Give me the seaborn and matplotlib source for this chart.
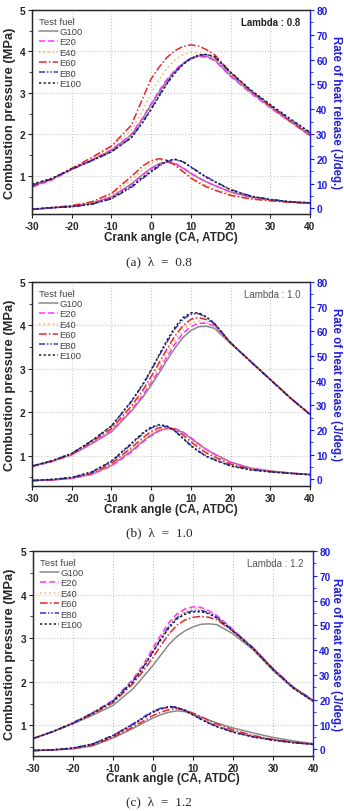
import numpy as np
import pandas as pd
import matplotlib
matplotlib.use("Agg")
import matplotlib.pyplot as plt
from matplotlib.ticker import MultipleLocator
import seaborn as sns

# crank angle grid (CA, ATDC)
crank = [-30, -25, -20, -15, -10, -5, -2, 0, 2, 4, 6, 8, 10, 12, 14, 16, 20, 25, 30, 35, 40]
fuels = ["G100", "E20", "E40", "E60", "E80", "E100"]

# (a) lambda 0.8
press_a = {
    "G100": [0.76, 0.92, 1.16, 1.38, 1.62, 1.98, 2.40, 2.72, 3.02, 3.30, 3.52, 3.70, 3.82, 3.89, 3.88, 3.80, 3.42, 3.02, 2.66, 2.32, 2.00],
    "E20": [0.73, 0.90, 1.15, 1.38, 1.63, 2.00, 2.42, 2.74, 3.05, 3.33, 3.55, 3.72, 3.83, 3.88, 3.86, 3.78, 3.40, 3.00, 2.64, 2.30, 1.97],
    "E40": [0.75, 0.92, 1.17, 1.42, 1.70, 2.10, 2.60, 3.00, 3.32, 3.60, 3.80, 3.92, 3.98, 3.97, 3.92, 3.84, 3.46, 3.04, 2.66, 2.30, 1.97],
    "E60": [0.74, 0.92, 1.18, 1.44, 1.72, 2.22, 2.90, 3.34, 3.62, 3.86, 4.02, 4.12, 4.16, 4.13, 4.04, 3.92, 3.50, 3.06, 2.68, 2.32, 1.98],
    "E80": [0.78, 0.93, 1.16, 1.36, 1.58, 1.92, 2.32, 2.62, 2.94, 3.24, 3.50, 3.70, 3.84, 3.92, 3.92, 3.86, 3.48, 3.06, 2.70, 2.36, 2.04],
    "E100": [0.80, 0.94, 1.17, 1.37, 1.58, 1.92, 2.30, 2.60, 2.92, 3.22, 3.48, 3.68, 3.83, 3.91, 3.93, 3.88, 3.50, 3.08, 2.72, 2.38, 2.05],
}
rohr_a = {
    "G100": [-0.5, 0.2, 0.8, 2.0, 4.6, 9.8, 13.8, 16.2, 18.0, 18.6, 18.0, 16.2, 14.0, 12.2, 10.6, 9.2, 6.6, 4.6, 3.4, 2.6, 2.1],
    "E20": [-0.5, 0.2, 0.8, 2.0, 4.5, 9.6, 13.6, 16.0, 17.9, 18.6, 18.1, 16.4, 14.2, 12.3, 10.6, 9.2, 6.5, 4.5, 3.3, 2.5, 2.0],
    "E40": [-0.5, 0.3, 1.0, 2.4, 5.4, 11.4, 15.6, 18.0, 19.4, 19.2, 17.6, 15.2, 12.8, 10.8, 9.2, 7.9, 5.6, 4.0, 3.1, 2.5, 2.0],
    "E60": [-0.5, 0.3, 1.1, 2.6, 6.0, 12.8, 17.2, 19.2, 20.0, 19.4, 17.4, 14.8, 12.2, 10.2, 8.6, 7.3, 5.2, 3.8, 3.0, 2.4, 2.0],
    "E80": [-0.4, 0.2, 0.6, 1.6, 3.8, 8.4, 12.2, 14.6, 17.0, 18.8, 19.6, 18.8, 16.8, 14.6, 12.6, 10.9, 7.6, 5.0, 3.6, 2.7, 2.2],
    "E100": [-0.3, 0.3, 0.7, 1.7, 4.0, 8.8, 12.6, 15.0, 17.4, 19.2, 19.8, 18.8, 16.6, 14.4, 12.4, 10.7, 7.4, 4.9, 3.5, 2.6, 2.2],
}

# (b) lambda 1.0
press_b = {
    "G100": [0.76, 0.87, 1.02, 1.27, 1.55, 2.02, 2.36, 2.62, 2.90, 3.20, 3.48, 3.72, 3.88, 3.97, 3.98, 3.93, 3.58, 3.18, 2.76, 2.34, 1.95],
    "E20": [0.75, 0.86, 1.02, 1.28, 1.57, 2.05, 2.40, 2.68, 2.97, 3.28, 3.57, 3.82, 3.97, 4.05, 4.05, 3.98, 3.60, 3.18, 2.76, 2.34, 1.95],
    "E40": [0.76, 0.87, 1.03, 1.30, 1.60, 2.10, 2.46, 2.75, 3.05, 3.37, 3.66, 3.90, 4.05, 4.10, 4.07, 3.98, 3.60, 3.18, 2.76, 2.34, 1.95],
    "E60": [0.75, 0.87, 1.03, 1.31, 1.62, 2.14, 2.52, 2.82, 3.14, 3.46, 3.76, 3.99, 4.14, 4.18, 4.13, 4.02, 3.60, 3.17, 2.75, 2.33, 1.95],
    "E80": [0.76, 0.88, 1.05, 1.34, 1.68, 2.24, 2.64, 2.96, 3.30, 3.62, 3.92, 4.14, 4.26, 4.27, 4.18, 4.04, 3.60, 3.17, 2.75, 2.33, 1.95],
    "E100": [0.76, 0.88, 1.05, 1.34, 1.68, 2.25, 2.66, 2.98, 3.32, 3.66, 3.96, 4.18, 4.29, 4.29, 4.19, 4.04, 3.60, 3.17, 2.75, 2.33, 1.95],
}
rohr_b = {
    "G100": [-0.5, -0.3, 0.4, 2.0, 5.6, 11.4, 15.6, 18.0, 19.8, 20.6, 20.4, 19.0, 16.6, 14.2, 12.0, 10.2, 7.0, 4.6, 3.4, 2.6, 2.0],
    "E20": [-0.5, -0.3, 0.4, 2.0, 5.4, 11.0, 15.2, 17.6, 19.6, 20.6, 20.6, 19.2, 16.9, 14.4, 12.1, 10.2, 6.9, 4.5, 3.3, 2.5, 1.9],
    "E40": [-0.5, -0.2, 0.5, 2.2, 6.0, 12.2, 16.4, 18.8, 20.4, 20.9, 20.2, 18.4, 15.8, 13.4, 11.2, 9.5, 6.5, 4.3, 3.2, 2.5, 1.9],
    "E60": [-0.5, -0.2, 0.6, 2.4, 6.4, 12.8, 17.0, 19.4, 20.9, 21.2, 20.2, 18.0, 15.2, 12.7, 10.6, 9.0, 6.2, 4.2, 3.2, 2.5, 1.9],
    "E80": [-0.5, -0.1, 0.7, 2.8, 7.2, 14.2, 18.6, 20.8, 21.8, 21.4, 19.6, 16.8, 13.8, 11.4, 9.4, 8.0, 5.6, 3.9, 3.1, 2.4, 1.9],
    "E100": [-0.5, 0.0, 0.8, 3.0, 7.4, 14.6, 19.0, 21.2, 22.2, 21.6, 19.6, 16.6, 13.6, 11.2, 9.2, 7.8, 5.4, 3.8, 3.0, 2.4, 1.9],
}

# (c) lambda 1.2
press_c = {
    "G100": [0.70, 0.86, 1.04, 1.24, 1.46, 1.84, 2.16, 2.38, 2.62, 2.86, 3.04, 3.17, 3.26, 3.32, 3.33, 3.31, 3.10, 2.74, 2.26, 1.86, 1.55],
    "E20": [0.70, 0.86, 1.06, 1.30, 1.58, 2.06, 2.46, 2.78, 3.08, 3.36, 3.56, 3.67, 3.72, 3.71, 3.63, 3.52, 3.20, 2.78, 2.30, 1.88, 1.58],
    "E40": [0.70, 0.86, 1.06, 1.29, 1.57, 2.04, 2.44, 2.75, 3.05, 3.32, 3.52, 3.63, 3.68, 3.68, 3.61, 3.50, 3.19, 2.78, 2.30, 1.88, 1.58],
    "E60": [0.70, 0.86, 1.05, 1.27, 1.52, 1.96, 2.30, 2.56, 2.84, 3.10, 3.30, 3.42, 3.48, 3.50, 3.48, 3.42, 3.16, 2.78, 2.30, 1.88, 1.58],
    "E80": [0.70, 0.86, 1.06, 1.29, 1.56, 2.02, 2.40, 2.70, 3.00, 3.27, 3.47, 3.58, 3.63, 3.64, 3.58, 3.48, 3.18, 2.78, 2.30, 1.88, 1.57],
    "E100": [0.70, 0.86, 1.05, 1.28, 1.55, 2.00, 2.38, 2.68, 2.97, 3.24, 3.44, 3.55, 3.60, 3.61, 3.56, 3.46, 3.16, 2.76, 2.28, 1.86, 1.56],
}
rohr_c = {
    "G100": [-0.5, -0.3, 0.2, 1.4, 4.6, 8.4, 11.0, 12.6, 14.0, 15.0, 15.5, 15.2, 14.2, 13.0, 11.8, 10.6, 8.6, 6.6, 4.8, 3.4, 2.3],
    "E20": [-0.5, -0.2, 0.5, 2.2, 5.6, 10.2, 13.2, 15.0, 16.3, 17.0, 16.8, 15.6, 14.0, 12.4, 10.8, 9.4, 7.2, 5.2, 3.8, 2.8, 2.0],
    "E40": [-0.5, -0.2, 0.5, 2.1, 5.4, 10.0, 13.0, 14.8, 16.1, 16.9, 16.8, 15.8, 14.2, 12.6, 11.0, 9.6, 7.3, 5.3, 3.9, 2.8, 2.0],
    "E60": [-0.5, -0.3, 0.3, 1.7, 4.8, 9.0, 11.8, 13.6, 15.0, 16.0, 16.4, 15.8, 14.6, 13.2, 11.6, 10.2, 7.8, 5.6, 4.0, 2.9, 2.0],
    "E80": [-0.5, -0.2, 0.5, 2.2, 5.6, 10.2, 13.4, 15.3, 16.6, 17.3, 17.0, 15.8, 14.0, 12.2, 10.6, 9.2, 7.0, 5.0, 3.7, 2.7, 2.0],
    "E100": [-0.5, -0.2, 0.5, 2.1, 5.4, 9.9, 13.0, 15.0, 16.4, 17.1, 16.8, 15.6, 13.8, 12.1, 10.5, 9.1, 6.9, 5.0, 3.7, 2.7, 2.0],
}

lambdas = ["0.8", "1.0", "1.2"]
captions = ["(a)", "(b)", "(c)"]

palette = {"G100": "#8a8a8a", "E20": "#ff33ff", "E40": "#ffaa55", "E60": "#e8262b",
           "E80": "#3333dd", "E100": "#222222"}
dashes = {"G100": "", "E20": (4, 2), "E40": (1, 2), "E60": (5, 1.5, 1, 1.5),
          "E80": (4, 1.2, 1, 1.2, 1, 1.2), "E100": (1.5, 1.5)}
blue = "#1f1fe0"


def long_df(d):
    rows = []
    for f in fuels:
        for x, y in zip(crank, d[f]):
            rows.append({"crank": x, "val": y, "fuel": f})
    return pd.DataFrame(rows)


sns.set_style("ticks")
plt.rcParams["font.family"] = ["Liberation Sans", "DejaVu Sans"]
plt.rcParams["axes.unicode_minus"] = False

fig = plt.figure(figsize=(3.44, 8.12), dpi=100)
# panel boxes in pixels: left, right, top, bottom
boxes = [(32, 310, 11, 215), (32, 310, 283, 487), (33, 313, 552, 757)]
left_lims = [(0.08, 5), (0.3, 5), (0.3, 5)]
right_lims = [(-2.3, 80), (-2.7, 80), (-2.7, 80)]
caption_y = [262, 533, 802]
press_all = [press_a, press_b, press_c]
rohr_all = [rohr_a, rohr_b, rohr_c]

for i in range(3):
    l, r, t, b = boxes[i]
    ax = fig.add_axes([l / 344, 1 - b / 812, (r - l) / 344, (b - t) / 812])
    ax2 = ax.twinx()

    sns.lineplot(data=long_df(press_all[i]), x="crank", y="val", hue="fuel", style="fuel",
                 palette=palette, dashes=dashes, hue_order=fuels, style_order=fuels,
                 linewidth=1.1, ax=ax)
    sns.lineplot(data=long_df(rohr_all[i]), x="crank", y="val", hue="fuel", style="fuel",
                 palette=palette, dashes=dashes, hue_order=fuels, style_order=fuels,
                 linewidth=1.1, ax=ax2, legend=False)

    ax.set_xlim(-30, 40)
    ax.set_ylim(*left_lims[i])
    ax2.set_ylim(*right_lims[i])
    ax.set_xticks(range(-30, 41, 10))
    ax.set_yticks([1, 2, 3, 4, 5])
    ax.yaxis.set_minor_locator(MultipleLocator(0.5))
    ax2.set_yticks(range(0, 81, 10))
    ax2.yaxis.set_minor_locator(MultipleLocator(5))

    ax.grid(True, which="major", color="#c8c8c8", linestyle=":", linewidth=0.8)
    ax.tick_params(axis="both", which="major", labelsize=7.3, length=3, width=0.8, pad=2)
    ax.tick_params(axis="y", which="minor", length=2, width=0.6)
    for lab in ax.get_xticklabels() + ax.get_yticklabels():
        lab.set_fontweight("bold")

    ax2.tick_params(axis="y", which="major", labelsize=7.3, length=3, width=0.8, pad=1.5,
                    colors=blue)
    ax2.tick_params(axis="y", which="minor", length=2, width=0.6, colors=blue)
    for lab in ax2.get_yticklabels():
        lab.set_fontweight("bold")
    ax2.spines["right"].set_color(blue)
    ax2.spines["right"].set_linewidth(1.0)
    ax.spines["right"].set_visible(False)
    for s in ["left", "top", "bottom"]:
        ax.spines[s].set_linewidth(1.0)

    ax.set_xlabel("Crank angle (CA, ATDC)", fontsize=8.5, fontweight="bold")
    ax.set_ylabel("Combustion pressure (MPa)", fontsize=9.3, fontweight="bold", va="center")
    ax2.set_ylabel("Rate of heat release (J/deg.)", fontsize=8.3, fontweight="bold",
                   color=blue, rotation=270, va="center")
    h = b - t
    ax.xaxis.set_label_coords(0.5, -16.5 / h)
    ax.yaxis.set_label_coords((10 - l) / (r - l), 0.5)
    ax2.yaxis.set_label_coords((335.5 - l) / (r - l), 0.5)

    handles, labels = ax.get_legend_handles_labels()
    leg = ax.legend(handles, labels, title="Test fuel", loc="upper left", frameon=False,
                    fontsize=6.8, title_fontsize=6.8, labelspacing=0.15, handlelength=2.0,
                    handletextpad=0.2, borderaxespad=0.3, alignment="left")
    for txt in leg.get_texts():
        txt.set_color("#444444")
    leg.get_title().set_color("#444444")

    ax.text(0.965, 0.94, "Lambda : " + lambdas[i], transform=ax.transAxes, ha="right",
            va="center", fontsize=7, fontweight="bold" if i == 0 else "normal",
            color="#222222" if i == 0 else "#555555")

    fig.text(159 / 344, 1 - caption_y[i] / 812, captions[i] + "  \u03bb  =  " + lambdas[i],
             ha="center", va="center", fontsize=9.5, family="Liberation Serif")

fig.savefig("out.png", dpi=100)
